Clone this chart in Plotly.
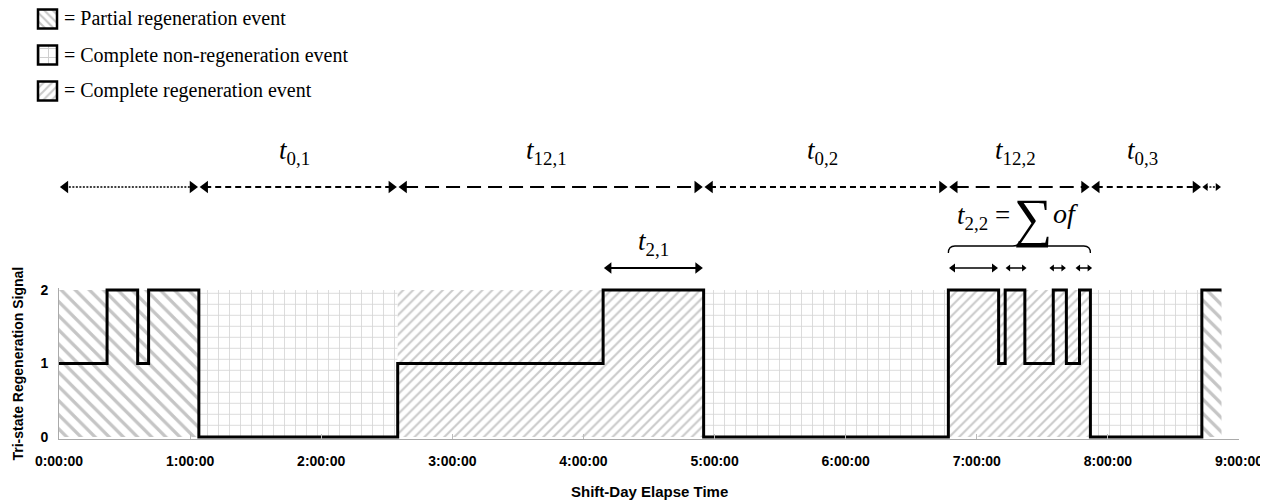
import math
import plotly.graph_objects as go

# ---------------- data ----------------
tick_minutes = [0, 60, 120, 180, 240, 300, 360, 420, 480, 540]
tick_labels = ["0:00:00", "1:00:00", "2:00:00", "3:00:00", "4:00:00",
               "5:00:00", "6:00:00", "7:00:00", "8:00:00", "9:00:00"]

# tri-state signal (minutes since shift start, value from that time on)
signal_times = [0, 22, 36, 41, 64, 155, 249, 295, 407, 430, 433, 442, 455, 461, 467, 472, 523]
signal_values = [1, 2, 1, 2, 0, 1, 2, 0, 2, 1, 2, 1, 2, 1, 2, 0, 2]
signal_end = 532

# events (minutes)
event_starts = [0, 64, 155, 295, 407, 472, 523]
event_ends = [64, 155, 295, 407, 472, 523, 532]
event_types = ["partial", "non", "complete", "non", "complete", "non", "partial"]
event_labels = ["", "0,1", "12,1", "0,2", "12,2", "0,3", ""]

t21_interval = [249, 295]
t22_intervals = [[407, 430], [433, 443], [453, 461], [465, 473]]
t22_event = [407, 472]

legend_types = ["partial", "non", "complete"]
legend_texts = ["= Partial regeneration event",
                "= Complete non-regeneration event",
                "= Complete regeneration event"]

# ---------------- layout constants ----------------
W, H = 1268, 502
OFF = 8                       # page body margin: screen px = figure px + OFF
PX0, PX1 = 59, 1239           # screen pixel of 0:00:00 and 9:00:00
XMAX = 540
XPX = (PX1 - PX0) / XMAX      # px per minute
Y0PX, Y2PX = 437, 290         # screen pixel of signal 0 and 2
YPAD = 0.03
ypu = (Y0PX - Y2PX) / 2
STRIP_PX = 282                # bottom of annotation strip (screen px)


def fx(sx):
    return (sx - OFF) / W


def fy(sy):
    return 1 - (sy - OFF) / H


dom_bot = fy(Y0PX + YPAD * ypu)
dom_top = fy(Y2PX - YPAD * ypu)

SERIF = "Liberation Serif, Times New Roman, serif"
SANS = "Liberation Sans, Arial, sans-serif"

PAT = {
    "partial": dict(shape="\\", fgcolor="#8c8c8c", bgcolor="white", size=10, solidity=0.33),
    "non": dict(shape="+", fgcolor="#a8a8a8", bgcolor="white", size=11, solidity=0.14),
    "complete": dict(shape="/", fgcolor="#959595", bgcolor="white", size=7, solidity=0.3),
}
DASH = {
    "partial": ("2px,1.5px", 1.5),
    "non": ("6px,4px", 2),
    "complete": ("14px,7px", 2),
}

fig = go.Figure()

# ---------------- event fills ----------------
for typ in legend_types:
    idx = [i for i, t in enumerate(event_types) if t == typ]
    xs = [(event_starts[i] + event_ends[i]) / 2 for i in idx]
    ws = [event_ends[i] - event_starts[i] for i in idx]
    fig.add_bar(x=xs, y=[2] * len(idx), width=ws, base=0,
                marker=dict(color="white", line_width=0, pattern=PAT[typ]),
                xaxis="x", yaxis="y", showlegend=False, hoverinfo="skip")

# ---------------- signal ----------------
fig.add_scatter(x=signal_times + [signal_end], y=signal_values + [signal_values[-1]],
                mode="lines", line=dict(shape="hv", color="black", width=3),
                xaxis="x", yaxis="y", showlegend=False, hoverinfo="skip")


def arrow(s, e, ypix, dash, width, head):
    rt = head / 2 * 2 / math.sqrt(3)
    off = rt / XPX
    fig.add_scatter(x=[s + off, e - off], y=[ypix, ypix], xaxis="x", yaxis="y2",
                    mode="lines+markers",
                    line=dict(color="black", width=width, dash=dash),
                    marker=dict(symbol=["triangle-left", "triangle-right"], size=head,
                                color="black", line_width=0),
                    cliponaxis=False, showlegend=False, hoverinfo="skip")


# top row of event arrows
for s, e, typ, lab in zip(event_starts, event_ends, event_types, event_labels):
    dash, lw = DASH[typ]
    head = 11 if (e - s) * XPX > 40 else 7
    arrow(s, e, 187, dash, lw, head)
    if lab:
        fig.add_annotation(x=(s + e) / 2, y=152, xref="x", yref="y2", xshift=-4,
                           text=f"<i>t</i><sub>{lab}</sub>", showarrow=False,
                           font=dict(family=SERIF, size=27, color="black"))

# t_{2,1}
arrow(t21_interval[0], t21_interval[1], 268, "solid", 2, 10)
fig.add_annotation(x=sum(t21_interval) / 2, y=243, xref="x", yref="y2",
                   text="<i>t</i><sub>2,1</sub>", showarrow=False,
                   font=dict(family=SERIF, size=27, color="black"))

# t_{2,2}
for s, e in t22_intervals:
    arrow(s, e, 268, "solid", 1.5, 8 if (e - s) * XPX > 30 else 6)
mid22 = sum(t22_event) / 2
fig.add_annotation(x=mid22, y=217, xref="x", yref="y2", xshift=-36,
                   text="<i>t</i><sub>2,2</sub> =", showarrow=False,
                   font=dict(family=SERIF, size=27, color="black"))
fig.add_annotation(x=mid22, y=218, xref="x", yref="y2", xshift=14,
                   text="∑", showarrow=False,
                   font=dict(family=SERIF, size=54, color="black"))
fig.add_annotation(x=mid22, y=213, xref="x", yref="y2", xshift=46,
                   text="<i>of</i>", showarrow=False,
                   font=dict(family=SERIF, size=28, color="black"))

L, R = t22_event
M = mid22
dx = 3
fig.add_shape(type="path", xref="x", yref="y2",
              path=(f"M {L},253 Q {L},246 {L+dx},246 L {M-dx},246 Q {M},246 {M},241 "
                    f"Q {M},246 {M+dx},246 L {R-dx},246 Q {R},246 {R},253"),
              line=dict(color="black", width=1.3))

# ---------------- legend ----------------
LEG_X0, LEG_SIZE = 38, 19
LEG_Y = [19, 55, 91]
fig.add_bar(x=[LEG_X0 + LEG_SIZE / 2] * 3, y=[LEG_SIZE] * 3, width=LEG_SIZE,
            base=[yy - LEG_SIZE / 2 for yy in LEG_Y],
            marker=dict(color="white", line=dict(color="black", width=2.5),
                        pattern=dict(shape=[PAT[t]["shape"] for t in legend_types],
                                     fgcolor=["#8c8c8c", "#999999", "#959595"],
                                     bgcolor="white", size=[6, 9, 6],
                                     solidity=[0.35, 0.2, 0.35])),
            xaxis="x2", yaxis="y3", showlegend=False, hoverinfo="skip")
for yy, txt in zip(LEG_Y, legend_texts):
    fig.add_annotation(x=fx(LEG_X0 + LEG_SIZE + 5), y=fy(yy), xref="paper", yref="paper",
                       xanchor="left", yanchor="middle", text=txt, showarrow=False,
                       font=dict(family=SERIF, size=20, color="black"))

# axis titles
fig.add_annotation(x=fx(17), y=fy((Y0PX + Y2PX) / 2), xref="paper", yref="paper",
                   xanchor="center", yanchor="middle",
                   text="Tri-state Regeneration Signal", textangle=-90, showarrow=False,
                   font=dict(family=SANS, size=14, color="black", weight="bold"))
fig.add_annotation(x=fx((PX0 + PX1) / 2), y=fy(491), xref="paper", yref="paper",
                   xanchor="center", yanchor="middle",
                   text="Shift-Day Elapse Time", showarrow=False,
                   font=dict(family=SANS, size=15, color="black", weight="bold"))

fig.update_layout(
    width=W, height=H, margin=dict(l=0, r=0, t=0, b=0),
    paper_bgcolor="white", plot_bgcolor="rgba(0,0,0,0)",
    barmode="overlay", showlegend=False,
    xaxis=dict(domain=[fx(PX0), fx(PX1)], range=[0, XMAX], anchor="y",
               tickvals=tick_minutes, ticktext=tick_labels,
               tickfont=dict(family=SANS, size=14, color="black", weight="bold"),
               showline=True, linecolor="#aaaaaa", linewidth=1,
               ticks="inside", ticklen=5, tickcolor="#bbbbbb",
               ticklabelstandoff=9,
               showgrid=False, zeroline=False, automargin=False),
    yaxis=dict(domain=[dom_bot, dom_top], range=[-YPAD, 2 + YPAD], anchor="x",
               tickvals=[0, 1, 2], ticktext=["0", "1", "2"],
               tickfont=dict(family=SANS, size=14, color="black", weight="bold"),
               showline=True, linecolor="#aaaaaa", linewidth=1, ticks="",
               ticklabelstandoff=7,
               showgrid=False, zeroline=False, automargin=False),
    yaxis2=dict(domain=[fy(STRIP_PX), 1], range=[STRIP_PX, OFF], anchor="x",
                visible=False, showgrid=False, zeroline=False),
    xaxis2=dict(domain=[0, 0.06], range=[OFF, OFF + 0.06 * W], anchor="y3",
                visible=False, showgrid=False, zeroline=False),
    yaxis3=dict(domain=[fy(110), 1], range=[110, OFF], anchor="x2",
                visible=False, showgrid=False, zeroline=False),
)

fig.write_html("out.html")
